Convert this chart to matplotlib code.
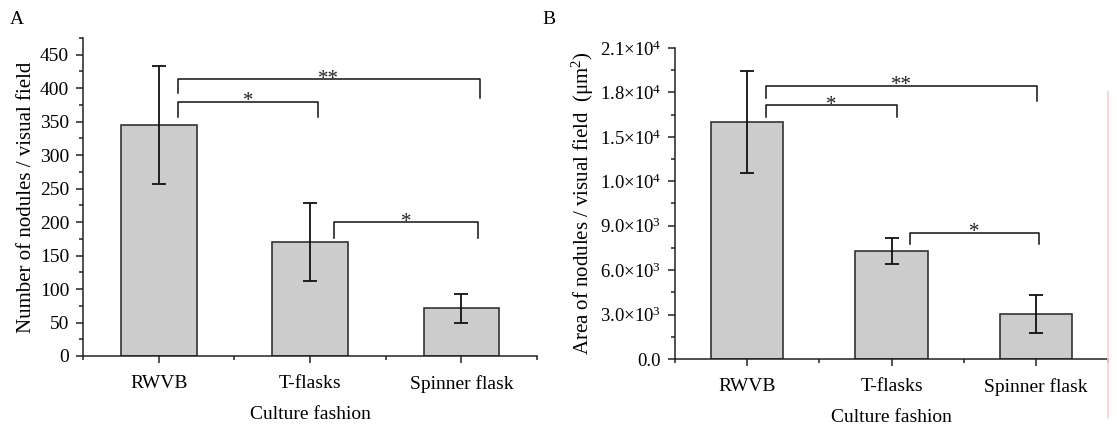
import numpy as np
import matplotlib
matplotlib.use("Agg")
import matplotlib.pyplot as plt
from matplotlib.lines import Line2D
from matplotlib.ticker import MultipleLocator, FixedLocator

plt.rcParams['font.family'] = ['Liberation Serif', 'DejaVu Serif']
plt.rcParams['mathtext.fontset'] = 'custom'
plt.rcParams['mathtext.rm'] = 'Liberation Serif'
plt.rcParams['mathtext.it'] = 'Liberation Serif:italic'

# ---- data ----
categories = ['RWVB', 'T-flasks', 'Spinner flask']

count_mean = [345, 170, 71]
count_err = [87.5, 58, 22]

area_mean = [16000, 7280, 3020]
area_err = [3460, 870, 1280]

# significance brackets: (x_left, x_right, top, left_leg, right_leg, label)
count_sig = [
    (0.13, 2.12, 413, 393, 386, '**'),
    (0.13, 1.05, 380, 357, 357, '*'),
    (1.16, 2.11, 200, 176, 176, '*'),
]
area_sig = [
    (0.13, 2.01, 18460, 17650, 17420, '**'),
    (0.13, 1.04, 17150, 16360, 16360, '*'),
    (1.13, 2.02, 8540, 7750, 7750, '*'),
]

area_ticks = [0, 3000, 6000, 9000, 12000, 15000, 18000, 21000]
area_ticklabels = ['0.0', r'3.0$\times$10$^3$', r'6.0$\times$10$^3$', r'9.0$\times$10$^3$',
                   r'1.0$\times$10$^4$', r'1.5$\times$10$^4$', r'1.8$\times$10$^4$',
                   r'2.1$\times$10$^4$']

FS = 14
EDGE = '#333333'


def style_axes(ax):
    for s in ['top', 'right']:
        ax.spines[s].set_visible(False)
    for s in ['left', 'bottom']:
        ax.spines[s].set_linewidth(1.1)
        ax.spines[s].set_color('#222222')
    ax.set_xlim(-0.5, 2.5)
    ax.set_xticks(range(len(categories)))
    ax.set_xticklabels(categories, fontsize=FS)
    ax.xaxis.set_minor_locator(FixedLocator([-0.5, 0.5, 1.5, 2.5]))
    ax.tick_params(which='major', direction='out', length=5, width=1.1, color='#222222',
                   labelsize=FS, pad=5)
    ax.tick_params(axis='x', which='major', pad=9)
    ax.tick_params(which='minor', direction='out', length=3, width=1.1, color='#222222')
    ax.set_xlabel('Culture fashion', fontsize=FS, labelpad=9)


def draw_bars(ax, means, errs):
    x = np.arange(len(categories))
    ax.bar(x, means, width=0.5, color='#cccccc', edgecolor=EDGE, linewidth=1.2, zorder=2)
    ax.errorbar(x, means, yerr=errs, fmt='none', ecolor='#111111', elinewidth=1.3,
                capsize=5, capthick=1.3, zorder=3)


def draw_sig(ax, sig):
    for xl, xr, top, ll, rl, lab in sig:
        ax.plot([xl, xl, xr, xr], [ll, top, top, rl], color='#111111', lw=1.1, zorder=3)
        ax.annotate(lab, xy=((xl + xr) / 2, top), xytext=(0, -3.5), textcoords='offset points',
                    ha='center', va='baseline', fontsize=15, color='#222222')


fig = plt.figure(figsize=(11.17, 4.24), dpi=100)

# ---- panel A ----
axA = fig.add_axes([0.0743, 0.1604, 0.4065, 0.75])
draw_bars(axA, count_mean, count_err)
draw_sig(axA, count_sig)
style_axes(axA)
axA.set_ylim(0, 475)
axA.yaxis.set_major_locator(FixedLocator(np.arange(0, 451, 50)))
axA.yaxis.set_minor_locator(MultipleLocator(25))
axA.set_ylabel('Number of nodules / visual field', fontsize=15, labelpad=3)

# ---- panel B ----
axB = fig.add_axes([0.6043, 0.1533, 0.3877, 0.7335])
draw_bars(axB, area_mean, area_err)
draw_sig(axB, area_sig)
style_axes(axB)
axB.set_ylim(0, 21000)
axB.set_yticks(area_ticks)
axB.set_yticklabels(area_ticklabels, fontsize=13.5)
axB.yaxis.set_minor_locator(MultipleLocator(1500))
axB.set_ylabel(r'Area of nodules / visual field  (μm$^2$)', fontsize=15, labelpad=3)

fig.text(0.009, 0.955, 'A', fontsize=FS, ha='left', va='center')
fig.text(0.486, 0.955, 'B', fontsize=FS, ha='left', va='center')

# faint red border line at the right edge of the scan
fig.add_artist(Line2D([0.9918, 0.9918], [1 - 92 / 424, 1 - 418 / 424],
                      transform=fig.transFigure, color='#ffcccc', lw=1.2))

fig.savefig('out.png', dpi=100)
